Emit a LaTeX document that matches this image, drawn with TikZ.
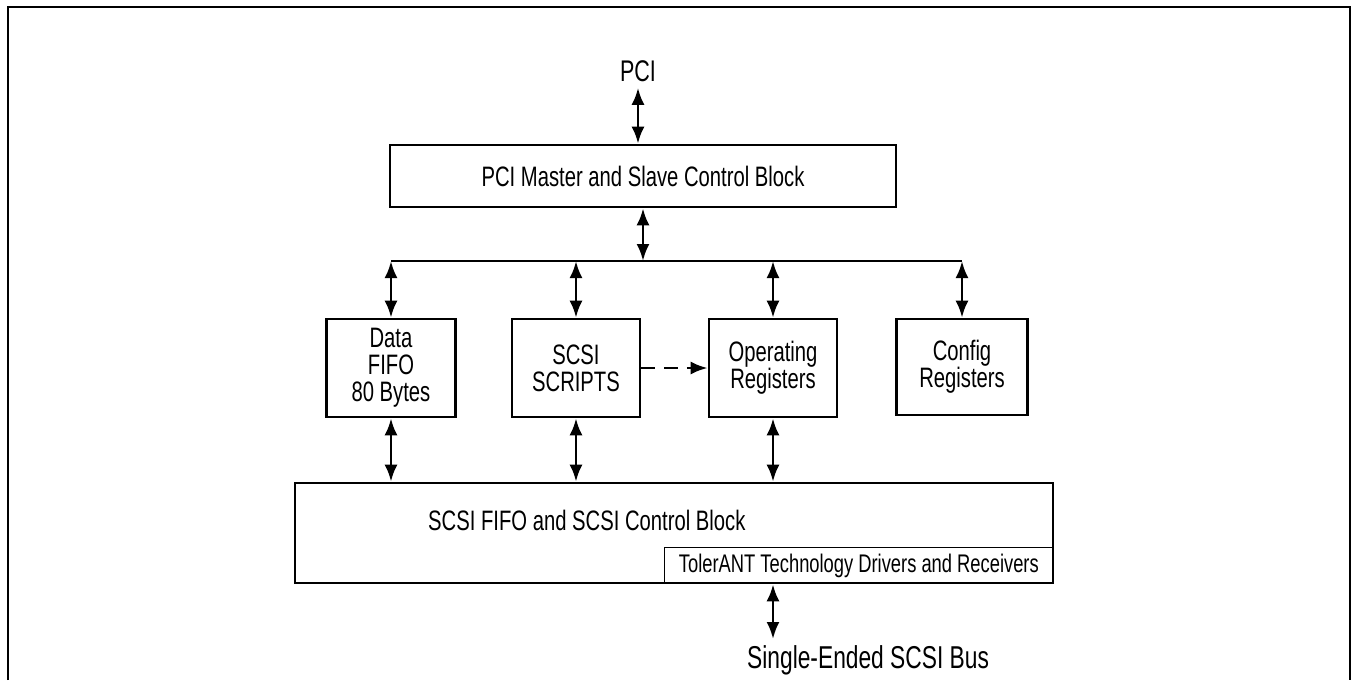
\documentclass[tikz,border=0pt]{standalone}
\usepackage{fontspec}
\setmainfont[FakeStretch=0.72]{Liberation Sans}
\usetikzlibrary{arrows.meta}
\tikzset{
    blk/.style={draw, line width=1.5pt, rectangle, inner sep=0pt, align=center,
        font=\fontsize{16}{15.4}\selectfont},
    dbl/.style={line width=1.6pt, {Latex[length=3.4mm,width=2.6mm]}-{Latex[length=3.4mm,width=2.6mm]}},
}
\begin{document}
\begin{tikzpicture}[x=0.02cm, y=-0.02cm]
    \useasboundingbox (0,0) rectangle (1356,680);
    % outer frame, open at the bottom
    \draw[line width=0.8pt] (8,680) -- (8,7) -- (1350,7) -- (1350,680);

    \node[font=\fontsize{17}{18}\selectfont] (pci) at (638,71) {PCI};
    \node[blk, minimum width=10.12cm, minimum height=1.24cm] (pcib) at (643,176)
        {PCI Master and Slave Control Block};

    % register blocks
    \node[blk, minimum width=2.58cm, minimum height=1.96cm] (fifo) at (391,368) {Data\\FIFO\\80 Bytes};
    \node[blk, minimum width=2.56cm, minimum height=1.96cm] (scripts) at (576,368) {SCSI\\SCRIPTS};
    \node[blk, minimum width=2.56cm, minimum height=1.96cm] (opreg) at (773,368) {Operating\\Registers};
    \node[blk, minimum width=2.62cm, minimum height=1.92cm] (config) at (962,367) {Config\\Registers};

    \node[blk, minimum width=15.16cm, minimum height=2cm] (scsib) at (674,533) {};
    \node[anchor=west, font=\fontsize{16}{15.4}\selectfont] (scsitxt) at (422,520)
        {SCSI FIFO and SCSI Control Block};
    \node[blk, anchor=south east, minimum width=7.78cm, minimum height=0.72cm,
        line width=1pt, font=\fontsize{14.5}{16}\selectfont] (tol) at (scsib.south east)
        {TolerANT Technology Drivers and Receivers};
    \node[anchor=west, font=\fontsize{18}{20}\selectfont] (sebus) at (741,660)
        {Single-Ended SCSI Bus};

    % internal bus
    \coordinate (busL) at (fifo.north |- 0,261);
    \coordinate (busR) at (config.north |- 0,261);
    \draw[line width=1.2pt] (busL) -- (busR);

    \draw[dbl] (pci.south) -- (pci.south |- pcib.north);
    \draw[dbl] (pcib.south) -- (pcib.south |- busL);
    \foreach \b in {fifo, scripts, opreg, config}
        \draw[dbl] (\b.north |- busL) -- (\b.north);
    \foreach \b in {fifo, scripts, opreg}
        \draw[dbl] (\b.south) -- (\b.south |- scsib.north);
    \draw[line width=1.6pt, dash pattern=on 8pt off 5pt, -{Latex[length=3.4mm,width=2.6mm]}]
        (scripts.east) -- (opreg.west);
    \draw[dbl] (opreg.south |- scsib.south) -- (opreg.south |- sebus.north);
\end{tikzpicture}
\end{document}
